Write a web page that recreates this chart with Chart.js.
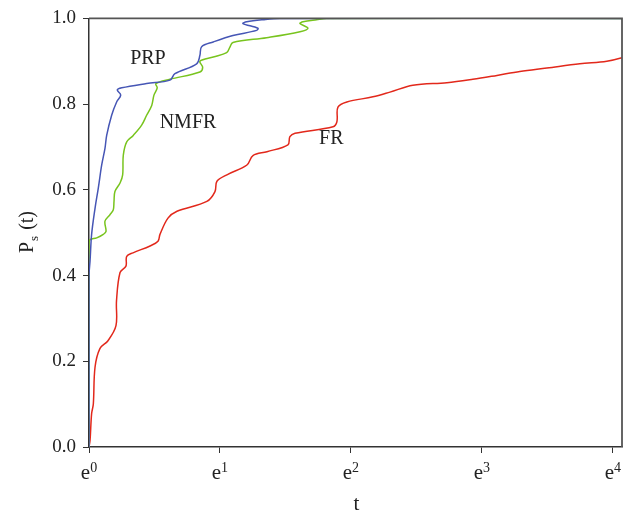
<!DOCTYPE html>
<html>
<head>
<meta charset="utf-8">
<script src="https://cdn.jsdelivr.net/npm/chart.js@4"></script>
<style>
html, body { margin: 0; padding: 0; background: #fff; }
</style>
</head>
<body>
<canvas id="profile" width="638" height="513"></canvas>
<script>
// x is ln(t), so e^n ticks sit at whole numbers
const xTicks = [0, 1, 2, 3, 4];
const xTickPowers = ["0", "1", "2", "3", "4"];
const yTicks = [0, 0.2, 0.4, 0.6, 0.8, 1.0];

const prpLogT = [0, 0, 0.008, 0.02, 0.046, 0.071, 0.097, 0.122, 0.135, 0.173, 0.211, 0.242, 0.216, 0.25, 0.44, 0.618, 0.656, 0.822, 0.847, 0.86, 0.949, 1.099, 1.28, 1.29, 1.176, 1.204, 1.328, 1.458, 4.1];
const prpP    = [0, 0.40, 0.434, 0.496, 0.557, 0.604, 0.658, 0.697, 0.727, 0.774, 0.805, 0.821, 0.833, 0.838, 0.848, 0.856, 0.871, 0.894, 0.914, 0.934, 0.945, 0.96, 0.972, 0.977, 0.988, 0.992, 0.997, 1.0, 1.0];

const nmfrLogT = [0, 0, 0.008, 0.059, 0.109, 0.13, 0.122, 0.16, 0.185, 0.191, 0.198, 0.237, 0.257, 0.262, 0.288, 0.338, 0.402, 0.44, 0.479, 0.496, 0.521, 0.511, 0.618, 0.847, 0.868, 0.847, 0.949, 1.051, 1.076, 1.099, 1.356, 1.611, 1.672, 1.611, 1.634, 1.738, 1.815, 4.1];
const nmfrP    = [0, 0.475, 0.484, 0.488, 0.496, 0.503, 0.527, 0.542, 0.553, 0.573, 0.596, 0.616, 0.635, 0.681, 0.712, 0.727, 0.751, 0.774, 0.797, 0.821, 0.838, 0.848, 0.858, 0.875, 0.886, 0.90, 0.91, 0.92, 0.933, 0.944, 0.955, 0.969, 0.977, 0.988, 0.992, 0.997, 1.0, 1.0];

const frLogT = [0, 0.008, 0.02, 0.033, 0.046, 0.084, 0.145, 0.206, 0.21, 0.237, 0.282, 0.288, 0.336, 0.466, 0.527, 0.542, 0.603, 0.672, 0.9, 0.962, 0.977, 1.053, 1.206, 1.252, 1.359, 1.519, 1.534, 1.573, 1.863, 1.893, 1.901, 1.969, 2.168, 2.298, 2.473, 2.733, 2.931, 3.115, 3.29, 3.496, 3.748, 3.954, 4.069, 4.12];
const frP    = [0, 0.016, 0.078, 0.10, 0.186, 0.23, 0.248, 0.283, 0.341, 0.407, 0.422, 0.445, 0.453, 0.469, 0.48, 0.496, 0.534, 0.55, 0.573, 0.596, 0.62, 0.635, 0.658, 0.68, 0.689, 0.705, 0.724, 0.732, 0.747, 0.759, 0.793, 0.805, 0.817, 0.828, 0.844, 0.85, 0.858, 0.867, 0.876, 0.884, 0.894, 0.90, 0.908, 0.915];

const seriesNames = ["PRP", "NMFR", "FR"];
const seriesColors = ["#4656b5", "#78c41e", "#e2281b"];
// where the in-plot names sit, in data units
const nameLogT = [0.45, 0.756, 1.85];
const nameP = [0.905, 0.756, 0.72];

const serif = "'Liberation Serif', 'Times New Roman', serif";

function toPoints(xs, ys) {
    return xs.map((x, i) => ({ x: x, y: ys[i] }));
}

const frame = {
    id: "frame",
    afterDatasetsDraw(chart) {
        const a = chart.chartArea;
        const ctx = chart.ctx;
        ctx.save();
        ctx.strokeStyle = "#555";
        ctx.lineWidth = 1.8;
        ctx.beginPath();
        ctx.moveTo(a.left, a.top);
        ctx.lineTo(a.right, a.top);
        ctx.lineTo(a.right, a.bottom);
        ctx.stroke();
        ctx.restore();
    },
    afterDraw(chart) {
        const ctx = chart.ctx;
        const xs = chart.scales.x;
        const ys = chart.scales.y;
        ctx.save();
        ctx.fillStyle = "#222";
        ctx.textAlign = "center";
        ctx.textBaseline = "middle";
        ctx.font = "20px " + serif;
        seriesNames.forEach((n, i) => {
            ctx.fillText(n, xs.getPixelForValue(nameLogT[i]), ys.getPixelForValue(nameP[i]));
        });

        // x tick labels: e with a raised power
        ctx.textBaseline = "alphabetic";
        ctx.textAlign = "left";
        xTicks.forEach((v, i) => {
            const px = xs.getPixelForValue(v);
            ctx.font = "21px " + serif;
            const wE = ctx.measureText("e").width;
            ctx.font = "14px " + serif;
            const wS = ctx.measureText(xTickPowers[i]).width;
            const x0 = px - (wE + wS) / 2;
            ctx.font = "21px " + serif;
            ctx.fillText("e", x0, 479);
            ctx.font = "14px " + serif;
            ctx.fillText(xTickPowers[i], x0 + wE, 472);
        });

        // x title
        ctx.textAlign = "center";
        ctx.font = "21px " + serif;
        ctx.fillText("t", (chart.chartArea.left + chart.chartArea.right) / 2 + 1, 510);

        // y title with subscript
        ctx.translate(27, 232);
        ctx.rotate(-Math.PI / 2);
        ctx.textAlign = "left";
        ctx.font = "20px " + serif;
        const wP = ctx.measureText("P").width;
        const wT = ctx.measureText(" (t)").width;
        ctx.font = "13px " + serif;
        const wS = ctx.measureText("s").width;
        const x0 = -(wP + wS + wT + 2) / 2;
        ctx.font = "20px " + serif;
        ctx.fillText("P", x0, 6);
        ctx.font = "13px " + serif;
        ctx.fillText("s", x0 + wP + 1, 11);
        ctx.font = "20px " + serif;
        ctx.fillText(" (t)", x0 + wP + wS + 2, 6);
        ctx.restore();
    }
};

const datasets = [
    toPoints(prpLogT, prpP),
    toPoints(nmfrLogT, nmfrP),
    toPoints(frLogT, frP)
].map((pts, i) => ({
    label: seriesNames[i],
    data: pts,
    borderColor: seriesColors[i],
    borderWidth: 1.5,
    pointRadius: 0,
    tension: 0.35,
    fill: false
}));

new Chart(document.getElementById("profile"), {
    type: "line",
    data: { datasets: datasets },
    options: {
        responsive: false,
        animation: false,
        parsing: false,
        layout: { padding: { top: 16, right: 16, left: 0, bottom: 0 } },
        plugins: { legend: { display: false }, tooltip: { enabled: false } },
        scales: {
            x: {
                type: "linear",
                min: 0,
                max: 4.07,
                afterBuildTicks: s => { s.ticks = xTicks.map(v => ({ value: v })); },
                afterFit: s => { s.height = 66; },
                ticks: { display: false },
                grid: { drawOnChartArea: false, tickLength: 6, color: "#333" },
                border: { color: "#333", width: 1.5 }
            },
            y: {
                type: "linear",
                min: 0,
                max: 1,
                afterBuildTicks: s => { s.ticks = yTicks.map(v => ({ value: v })); },
                afterFit: s => { s.width = 89; },
                ticks: {
                    padding: 7,
                    color: "#222",
                    font: { family: serif, size: 19 },
                    callback: v => v.toFixed(1)
                },
                grid: { drawOnChartArea: false, tickLength: 6, color: "#333" },
                border: { color: "#333", width: 1.5 }
            }
        }
    },
    plugins: [frame]
});
</script>
</body>
</html>
